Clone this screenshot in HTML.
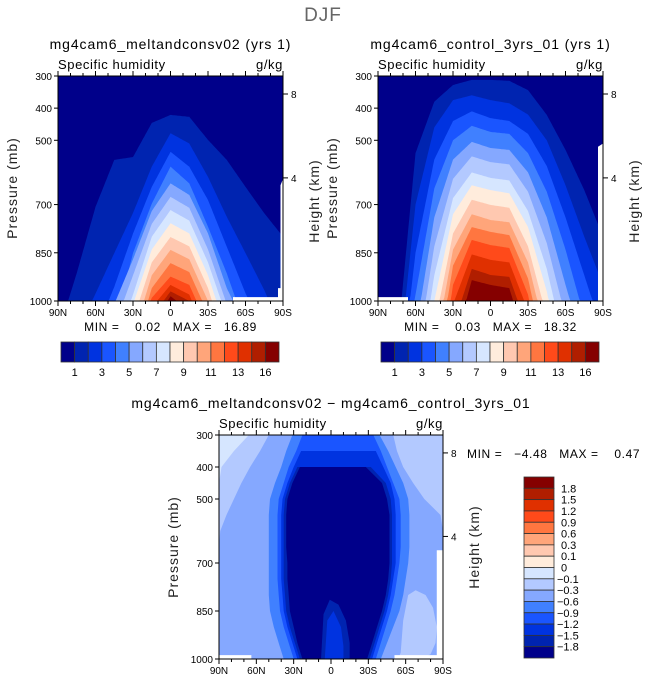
<!DOCTYPE html>
<html><head><meta charset="utf-8">
<style>
html,body{margin:0;padding:0;background:#fff;}
svg text{font-family:"Liberation Sans",sans-serif;white-space:pre;}
</style></head>
<body>
<svg id="fig" xmlns="http://www.w3.org/2000/svg" width="647" height="684" viewBox="0 0 647 684">
<text x="323" y="21" font-size="19" fill="#666" text-anchor="middle" letter-spacing="1">DJF</text>
</svg>
<script>
// ---- data ----
const palette = ["#00008a","#0024b0","#0033e0","#1a55ff","#4080ff","#85a8ff","#b3c9ff","#d6e6ff","#ffecdc","#ffc8b0","#ffa57a","#ff7640","#ff4a1a","#e03000","#b01e00","#850000"];
const lats = [90,75,60,45,30,15,0,-15,-30,-45,-60,-75,-90];
const latTicks = [90,60,30,0,-30,-60,-90];
const latTickLabels = ["90N","60N","30N","0","30S","60S","90S"];
const presTicks = [300,400,500,700,850,1000];
const heightTicks = [8,4];
const heightTickPres = [356,617];
const cbLabels12 = ["1","3","5","7","9","11","13","16"];
const cbLabels3 = ["1.8","1.5","1.2","0.9","0.6","0.3","0.1","0","\u22120.1","\u22120.3","\u22120.6","\u22120.9","\u22121.2","\u22121.5","\u22121.8"];
// panel 1: top pressure of each contour level at each latitude (>1000 = below ground)
const exp1 = [
[1100,913,707,561,552,446,421,427,499,561,645,727,800],
[1200,1100,977,851,726,582,478,510,614,738,851,966,1100],
[1300,1200,1100,956,790,645,536,582,686,831,976,1100,1200],
[1400,1300,1200,1080,851,697,582,634,769,914,1080,1200,1300],
[1500,1400,1150,1010,870,720,634,670,790,960,1080,1300,1400],
[1600,1500,1250,1080,920,760,676,710,840,1010,1200,1400,1500],
[1700,1600,1300,1150,980,800,717,750,880,1050,1250,1500,1600],
[1800,1700,1400,1200,1010,840,758,790,920,1100,1300,1600,1700],
[1900,1800,1500,1250,1060,880,801,830,960,1150,1400,1700,1800],
[2000,1900,1600,1300,1110,920,841,870,1000,1200,1500,1800,1900],
[2000,2000,1700,1350,1160,960,882,910,1040,1250,1600,1900,2000],
[2000,2000,1800,1400,1200,990,924,950,1080,1300,1700,2000,2000],
[2000,2000,1900,1450,1250,1020,950,980,1120,1350,1800,2000,2000],
[2000,2000,2000,1500,1300,1050,970,1000,1160,1400,1900,2000,2000],
[2000,2000,2000,1550,1350,1080,985,1030,1200,1450,2000,2000,2000]];
// panel 2
const ctl = [
[1300,1150,540,380,328,312,312,315,344,421,530,655,800],
[1400,1250,700,460,375,360,375,385,420,500,640,800,950],
[1500,1350,850,560,440,410,431,440,480,580,740,920,1100],
[1600,1450,980,650,500,455,474,480,540,660,840,1050,1200],
[1700,1550,1100,740,560,505,524,530,600,740,950,1150,1300],
[1800,1650,1200,830,620,550,568,575,660,820,1050,1250,1400],
[1900,1750,1300,920,680,600,617,625,720,900,1150,1350,1500],
[2000,1850,1400,1000,730,640,655,665,770,970,1250,1450,1600],
[2000,1950,1500,1080,790,685,701,710,830,1050,1350,1550,1700],
[2000,2000,1600,1160,840,730,748,755,880,1120,1450,1650,1800],
[2000,2000,1700,1250,890,770,785,795,930,1200,1550,1750,1900],
[2000,2000,1800,1350,950,810,826,835,980,1280,1650,1850,2000],
[2000,2000,1900,1450,1010,855,872,880,1030,1350,1750,1950,2000],
[2000,2000,2000,1550,1080,900,919,925,1090,1450,1850,2000,2000],
[2000,2000,2000,1650,1150,935,950,960,1150,1550,1950,2000,2000]];
// panel 3 (difference): contour left/right latitudes at pressure levels
const p3 = [300,350,400,450,500,550,600,650,700,750,800,850,900,950,1000];
const ulLight = [50,57,65,72,78,84,89,90,90,90,90,90,90,90,90];
const ulLighter = [66,78,88,90,90,90,90,90,90,90,90,90,90,90,90];
const urLight = [-50,-53,-58,-66,-75,-88,-90,-90,-90,-90,-90,-90,-90,-90,-90];
const blobLat = [-56,-58,-62,-68,-76,-82,-85,-84,-80,-72,-64,-58,-55];
const blobP = [980,880,800,785,800,840,900,950,985,1000,1000,1000,990];
const c06L = [31,36,40,45,49,50,50,50,50,50,50,49,46,42,38];
const c06R = [-39,-46,-52,-58,-62,-63,-63,-63,-62,-60,-58,-55,-50,-45,-40];
const c09L = [23,28,34,38,42,43,43,43,43,43,42,41,38,34,30];
const c09R = [-34,-40,-45,-50,-55,-56,-56,-56,-55,-53,-51,-48,-44,-40,-36];
const c12L = [null,24,30,35,39,40,40,40,40,40,39,38,35,31,27];
const c12R = [null,-36,-42,-48,-51,-52,-52,-52,-52,-50,-48,-45,-41,-37,-33];
const c15L = [null,null,27,33,37,38,38,38,38,38,37,36,33,29,25];
const c15R = [null,null,-32,-44,-48,-49,-49,-49,-49,-48,-46,-43,-39,-35,-31];
const c18L = [null,null,25,31,35,36,36,36,35,35,34,33,30,27,23];
const c18R = [null,null,-28,-41,-45,-47,-47,-47,-47,-46,-44,-41,-37,-33,-29];
const innerLat1 = [8,6,1,-6,-12,-15,-15];
const innerP1 = [1000,860,815,830,880,950,1000];
const innerLat2 = [5,3,-2,-8,-10,-10];
const innerP2 = [1000,880,850,900,960,1000];

// ---- drawing ----
const NS="http://www.w3.org/2000/svg";
const svg=document.getElementById('fig');
function el(tag,attrs,parent){const e=document.createElementNS(NS,tag);for(const k in attrs)e.setAttribute(k,attrs[k]);(parent||svg).appendChild(e);return e;}
function txt(s,attrs,parent){const e=el('text',attrs,parent);e.textContent=s;return e;}
function mkAxes(x0,y0,w,h){return {x:lat=>x0+(90-lat)/180*w,y:p=>y0+(p-300)/700*h};}
function interp(arr,lat){const i=(90-lat)/15;const a=Math.floor(i),b=Math.min(a+1,12);const f=i-a;return arr[a]*(1-f)+arr[b]*f;}

function frame(g,ax,x0,y0,w,h,title,ylx,yly,hlx,hly){
  el('rect',{x:x0,y:y0,width:w,height:h,fill:'none',stroke:'#000','stroke-width':1},g);
  for(let l=90;l>=-90;l-=10){const X=ax.x(l);const major=(l%30===0);const L=major?5:3;
    el('line',{x1:X,y1:y0+h,x2:X,y2:y0+h+L,stroke:'#000'},g);
    el('line',{x1:X,y1:y0,x2:X,y2:y0-L,stroke:'#000'},g);}
  latTicks.forEach((l,i)=>{const t=txt(latTickLabels[i],{x:ax.x(l),y:y0+h+15,'font-size':10,'text-anchor':'middle'},g);
    });
  presTicks.forEach(p=>{const Y=ax.y(p);el('line',{x1:x0-4,y1:Y,x2:x0,y2:Y,stroke:'#000'},g);
    const t=txt(String(p),{x:x0-6,y:Y+4,'font-size':10,'text-anchor':'end'},g);
    });
  heightTicks.forEach((hk,i)=>{const Y=ax.y(heightTickPres[i]);el('line',{x1:x0+w,y1:Y,x2:x0+w+5,y2:Y,stroke:'#000'},g);
    const t=txt(String(hk),{x:x0+w+8,y:Y+4,'font-size':10},g);
    });
  const a=txt('Specific humidity',{x:x0,y:y0-7,'font-size':13,'letter-spacing':0.6},g);
  
  const b=txt('g/kg',{x:x0+w,y:y0-7,'font-size':13,'text-anchor':'end','letter-spacing':0.6},g);
  
  const c=txt(title,{x:x0+w/2,y:y0-27,'font-size':14,'text-anchor':'middle','letter-spacing':0.9},g);
  
  const d=txt('Pressure (mb)',{x:ylx,y:yly,'font-size':14,'letter-spacing':1,'text-anchor':'middle',transform:`rotate(-90 ${ylx} ${yly})`,fill:'#222'},g);
  
  const e=txt('Height (km)',{x:hlx,y:hly,'font-size':14,'letter-spacing':1,'text-anchor':'middle',transform:`rotate(-90 ${hlx} ${hly})`,fill:'#222'},g);
  
}

function humidityPanel(name,data,x0,y0,w,h,title,minmax,whites){
  const g=el('g',{});
  
  
  const ax=mkAxes(x0,y0,w,h);
  const cid='clip-'+name;
  const cp=el('clipPath',{id:cid},g);el('rect',{x:x0,y:y0,width:w,height:h},cp);
  const fg=el('g',{'clip-path':`url(#${cid})`},g);
  el('rect',{x:x0,y:y0,width:w,height:h,fill:palette[0]},fg);
  data.forEach((lev,k)=>{
    let d=`M${ax.x(90)},${ax.y(1000)}`;
    for(let l=90;l>=-90;l-=1){const p=Math.min(1000,interp(lev,l));d+=` L${ax.x(l).toFixed(1)},${ax.y(p).toFixed(1)}`;}
    d+=` L${ax.x(-90)},${ax.y(1000)} Z`;
    const pe=el('path',{d:d,fill:palette[k+1]},fg);
    
    
  });
  whites.forEach(pts=>{el('polygon',{points:pts.map(q=>ax.x(q[0])+','+ax.y(q[1])).join(' '),fill:'#fff'},fg);});
  frame(g,ax,x0,y0,w,h,title,x0-41,y0+112,x0+w+36,y0+125);
  const m=txt(minmax,{x:x0+w/2,y:y0+h+30,'font-size':12,'text-anchor':'middle','letter-spacing':0.6},g);
  
  const cbx=x0+3,cby=y0+h+41,cbw=218,cbh=20,bw=cbw/16;
  palette.forEach((c,i)=>{const r=el('rect',{x:cbx+i*bw,y:cby,width:bw,height:cbh,fill:c,stroke:'#333','stroke-width':0.8},g);
    });
  cbLabels12.forEach((s,i)=>{const t=txt(s,{x:cbx+(2*i+1)*bw,y:cby+cbh+14,'font-size':11,'text-anchor':'middle'},g);
    });
}

humidityPanel('panel-experiment',exp1,58,76,225,225,'mg4cam6_meltandconsv02 (yrs 1)','MIN =    0.02   MAX =   16.89',
  [[[-50,988],[-86,988],[-86,960],[-88,960],[-88,640],[-90,620],[-90,1000],[-50,1000]]]);
humidityPanel('panel-control',ctl,378,76,225,225,'mg4cam6_control_3yrs_01 (yrs 1)','MIN =    0.03   MAX =   18.32',
  [[[90,988],[66,988],[66,1000],[90,1000]],[[-86,1000],[-86,520],[-90,510],[-90,1000]]]);

// ---- difference panel ----
(function(){
  const x0=219,y0=435,w=224,h=224;
  const g=el('g',{});
  
  
  const ax=mkAxes(x0,y0,w,h);
  const cp=el('clipPath',{id:'clip-diff'},g);el('rect',{x:x0,y:y0,width:w,height:h},cp);
  const fg=el('g',{'clip-path':'url(#clip-diff)'},g);
  el('rect',{x:x0,y:y0,width:w,height:h,fill:palette[5]},fg);
  function edgeRegion(arr,edgeLat,color,name){
    let pts=[[edgeLat,300]];p3.forEach((p,i)=>pts.push([arr[i],p]));pts.push([edgeLat,1000]);
    const pe=el('polygon',{points:pts.map(q=>ax.x(q[0])+','+ax.y(q[1])).join(' '),fill:color},fg);
    
  }
  edgeRegion(ulLight,91,palette[6],'region-upper-left-light');
  edgeRegion(ulLighter,91,palette[7],'region-upper-left-lighter');
  edgeRegion(urLight,-91,palette[6],'region-upper-right-light');
  const bl=el('polygon',{points:blobLat.map((l,i)=>ax.x(l)+','+ax.y(blobP[i])).join(' '),fill:palette[6]},fg);
  
  function closed(L,R,color,name){
    const pts=[];
    p3.forEach((p,i)=>{if(L[i]!==null)pts.push([L[i],p]);});
    pts.push([L[L.length-1],1010]);pts.push([R[R.length-1],1010]);
    for(let i=p3.length-1;i>=0;i--){if(R[i]!==null)pts.push([R[i],p3[i]]);}
    const pe=el('polygon',{points:pts.map(q=>ax.x(q[0]).toFixed(1)+','+ax.y(q[1]).toFixed(1)).join(' '),fill:color},fg);
    
  }
  closed(c06L,c06R,palette[4],'contour-minus-0.6');
  closed(c09L,c09R,palette[3],'contour-minus-0.9');
  closed(c12L,c12R,palette[2],'contour-minus-1.2');
  closed(c15L,c15R,palette[1],'contour-minus-1.5');
  closed(c18L,c18R,palette[0],'contour-minus-1.8');
  const i1=el('polygon',{points:innerLat1.map((l,i)=>ax.x(l)+','+ax.y(innerP1[i])).join(' '),fill:palette[1]},fg);
  
  const i2=el('polygon',{points:innerLat2.map((l,i)=>ax.x(l)+','+ax.y(innerP2[i])).join(' '),fill:palette[2]},fg);
  
  [[[90,988],[64,988],[64,1000],[90,1000]],[[-51,988],[-90,988],[-90,1000],[-51,1000]],[[-85,1000],[-85,660],[-90,660],[-90,1000]]]
    .forEach(pts=>el('polygon',{points:pts.map(q=>ax.x(q[0])+','+ax.y(q[1])).join(' '),fill:'#fff'},fg));
  frame(g,ax,x0,y0,w,h,'mg4cam6_meltandconsv02 \u2212 mg4cam6_control_3yrs_01',x0-41,y0+112,x0+w+36,y0+112);
  const mm=txt('MIN =   \u22124.48   MAX =    0.47',{x:467,y:458,'font-size':12,'letter-spacing':0.6},g);
  
  const cbx=524,cby=477,cbw=30,cbh=181,bh=cbh/16;
  for(let i=0;i<16;i++){const r=el('rect',{x:cbx,y:cby+i*bh,width:cbw,height:bh,fill:palette[15-i],stroke:'#333','stroke-width':0.8},g);
    }
  cbLabels3.forEach((s,i)=>{const t=txt(s,{x:s.startsWith('\u2212')?557:561,y:cby+(i+1)*bh+4,'font-size':11},g);
    });
})();
</script>
</body></html>
